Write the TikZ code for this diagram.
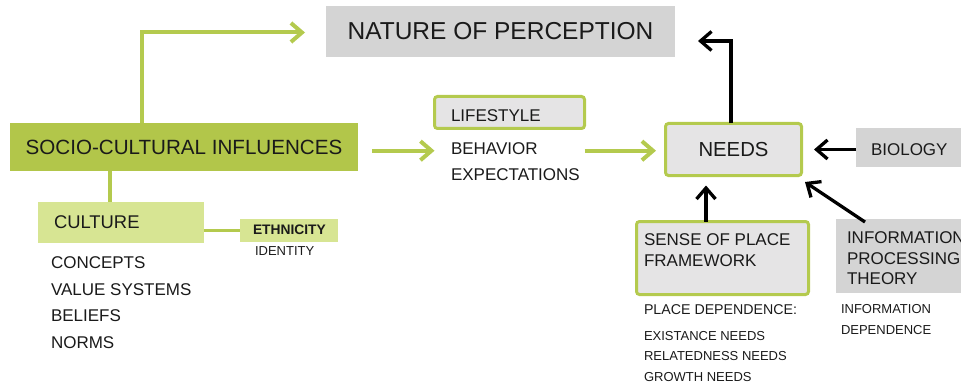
\documentclass[tikz,border=0pt]{standalone}
\usepackage{fontspec}
\setmainfont{Liberation Sans}
\usetikzlibrary{arrows.meta,calc}

\definecolor{gdark}{RGB}{178,198,74}
\definecolor{gline}{RGB}{180,202,78}
\definecolor{glight}{RGB}{215,229,147}
\definecolor{greybox}{RGB}{212,212,212}
\definecolor{greylight}{RGB}{229,228,229}
\definecolor{ink}{RGB}{26,26,26}
\newcommand{\fsz}[1]{\fontsize{#1}{#1}\selectfont}

\begin{document}
\begin{tikzpicture}[x=1pt,y=-1pt,
  every node/.style={inner sep=0pt, outer sep=0pt, text=ink},
  txt/.style={anchor=west},
  flatbox/.style={draw=none, fill=#1},
  framed/.style={draw=gline, line width=3pt, fill=greylight, rounded corners=3pt},
  glink/.style={draw=gline, line width=4pt},
  garrow/.style={glink, -{Straight Barb[length=11pt,width=19pt]}},
  barrow/.style={draw=black, line width=3.3pt, -{Straight Barb[length=11pt,width=19pt]}},
]
\useasboundingbox (0,0) rectangle (961,385);

% boxes
\node[flatbox=greybox, minimum width=349pt, minimum height=51pt] (nature) at (500.5,31.5) {\fsz{24.5}NATURE OF PERCEPTION};
\node[flatbox=gdark, minimum width=348pt, minimum height=48pt] (socio) at (184,147) {\fsz{20.6}SOCIO-CULTURAL INFLUENCES};
\node[flatbox=glight, minimum width=166pt, minimum height=41pt] (cultbox) at (121,222.5) {};
\node[flatbox=glight, minimum width=98pt, minimum height=23pt] (ethbox) at (289,230.5) {};
\node[framed, minimum width=150pt, minimum height=32pt] (lifebox) at (509.5,112.5) {};
\node[framed, minimum width=136pt, minimum height=52pt] (needsbox) at (733.5,149.5) {\fsz{20.3}NEEDS};
\node[flatbox=greybox, minimum width=119pt, minimum height=39pt] (biobox) at (915.5,147.5) {};
\node[framed, minimum width=172pt, minimum height=73pt] (sensebox) at (722.5,258) {};
\node[flatbox=greybox, minimum width=139pt, minimum height=74pt] (infobox) at (905.5,256) {};

% labels
\node[txt] (culture) at (54,222.5) {\fsz{18.4}CULTURE};
\node[txt] (ethnicity) at (253,230) {\fsz{13.8}\bfseries ETHNICITY};
\node[txt] (identity) at (255,251) {\fsz{13}IDENTITY};
\node[txt] (concepts) at (51,262.3) {\fsz{17}CONCEPTS};
\node[txt] (values) at (51,289.3) {\fsz{17}VALUE SYSTEMS};
\node[txt] (beliefs) at (51,315.7) {\fsz{17}BELIEFS};
\node[txt] (norms) at (51,342.3) {\fsz{17}NORMS};
\node[txt] (lifestyle) at (451,116) {\fsz{17}LIFESTYLE};
\node[txt] (behavior) at (451,148.3) {\fsz{17}BEHAVIOR};
\node[txt] (expect) at (451,175) {\fsz{17}EXPECTATIONS};
\node[txt] (biology) at (871,150) {\fsz{17}BIOLOGY};
\node[txt] (sense1) at (644,240) {\fsz{17}SENSE OF PLACE};
\node[txt] (sense2) at (644,261) {\fsz{17}FRAMEWORK};
\node[txt] (info1) at (847,237.5) {\fsz{17}INFORMATION};
\node[txt] (info2) at (847,258.5) {\fsz{17}PROCESSING};
\node[txt] (info3) at (847,278.5) {\fsz{17}THEORY};
\node[txt] (placedep) at (644,309.5) {\fsz{14.2}PLACE DEPENDENCE:};
\node[txt] (exist) at (644,336) {\fsz{13}EXISTANCE NEEDS};
\node[txt] (related) at (644,356.5) {\fsz{13}RELATEDNESS NEEDS};
\node[txt] (growth) at (644,377) {\fsz{13}GROWTH NEEDS};
\node[txt] (infodep1) at (841,309) {\fsz{13}INFORMATION};
\node[txt] (infodep2) at (841,330) {\fsz{13}DEPENDENCE};

% green connectors
\draw[garrow] ($(socio.north)+(-42pt,0)$) |- ($(nature.west)+(-21pt,-1pt)$);
\coordinate (c1) at ($(socio.south)+(-74pt,0)$);
\draw[glink] (c1) -- (c1 |- cultbox.north);
\draw[glink, line width=3pt] (ethbox.west -| cultbox.east) -- (ethbox.west);
\coordinate (a1) at ($(socio.east)+(14pt,-3.7pt)$);
\draw[garrow] (a1) -- (a1 -| lifebox.west);
\draw[garrow] (a1 -| lifebox.east) -- ($(a1 -| needsbox.west)+(-9.5pt,0)$);

% black connectors
\draw[barrow] ($(needsbox.north)+(-2.5pt,0)$) |- ($(nature.east)+(23pt,-9.5pt)$);
\draw[barrow] (biobox.west |- needsbox.east) -- ($(needsbox.east)+(12.5pt,0)$);
\coordinate (s1) at ($(sensebox.north)+(-16.5pt,0)$);
\draw[barrow] (s1) -- ($(s1 |- needsbox.south)+(0,-10pt)$);
\draw[barrow] ($(infobox.north west)+(29pt,-3pt)$) -- ($(needsbox.south east)+(3.5pt,-6.5pt)$);
\end{tikzpicture}
\end{document}
